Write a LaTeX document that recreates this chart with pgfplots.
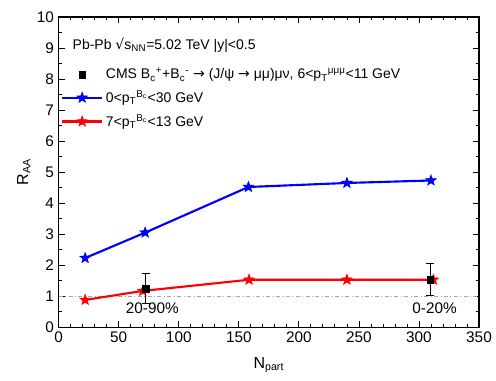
\documentclass[border=0pt]{standalone}
\usepackage{pgfplots}
\pgfplotsset{compat=1.18}
\usepackage{fontspec}
\setmainfont{Liberation Sans}
\newfontfamily\sym{DejaVu Sans}
\pgfdeclareplotmark{fstar}{%
  \pgfpathmoveto{\pgfqpointpolar{90}{\pgfplotmarksize}}%
  \pgfpathlineto{\pgfqpointpolar{126}{0.42\pgfplotmarksize}}%
  \pgfpathlineto{\pgfqpointpolar{162}{\pgfplotmarksize}}%
  \pgfpathlineto{\pgfqpointpolar{198}{0.42\pgfplotmarksize}}%
  \pgfpathlineto{\pgfqpointpolar{234}{\pgfplotmarksize}}%
  \pgfpathlineto{\pgfqpointpolar{270}{0.42\pgfplotmarksize}}%
  \pgfpathlineto{\pgfqpointpolar{306}{\pgfplotmarksize}}%
  \pgfpathlineto{\pgfqpointpolar{342}{0.42\pgfplotmarksize}}%
  \pgfpathlineto{\pgfqpointpolar{18}{\pgfplotmarksize}}%
  \pgfpathlineto{\pgfqpointpolar{54}{0.42\pgfplotmarksize}}%
  \pgfpathclose
  \pgfusepathqfillstroke}
\pgfplotstableread{
x y e
72.5 1.25 0.47
309.5 1.54 0.52
}\cms
\begin{document}
\begin{tikzpicture}
\path[use as bounding box] (-44pt,-40pt) rectangle (327.75pt,245.25pt);
\begin{axis}[
  scale only axis, width=315pt, height=232.5pt,
  xmin=0, xmax=350, ymin=0, ymax=10,
  xtick={0,50,...,350}, ytick={0,1,...,10},
  minor x tick num=4, minor y tick num=1,
  tick align=inside, axis line style={line width=0.8pt},
  major tick length=4.5pt, minor tick length=2.5pt,
  every tick/.style={black, line width=0.6pt},
  /pgf/number format/assume math mode=true,
  tick label style={font=\fontsize{11.5}{13}\selectfont},
  xlabel={N\textsubscript{part}}, ylabel={R\textsubscript{AA}},
  label style={font=\fontsize{12}{14}\selectfont},
  xlabel style={yshift=-4pt},
  ylabel style={yshift=-2pt},
  legend cell align=left,
  legend style={at={(axis description cs:0.005,0.845)}, anchor=north west, draw=none, fill=none,
    font=\fontsize{10.5}{12}\selectfont, row sep=3.3pt, inner sep=0pt},
  legend image code/.code={\draw[mark repeat=2,mark phase=2] plot coordinates {(0pt,0pt) (15pt,0pt) (30pt,0pt)};},
  clip=false,
]
\addplot[gray!70, dash dot, line width=0.5pt, forget plot] coordinates {(0,1) (350,1)};
\addplot[only marks, mark=square*, mark size=2.5pt, black] table[x=x,y=y] {\cms};
\addlegendentry{CMS B\textsubscript{c}\textsuperscript{+}+B\textsubscript{c}\textsuperscript{-} {\sym →} (J/ψ {\sym →} μμ)μν, 6<p\textsubscript{T}\textsuperscript{μμμ}<11 GeV}
\addplot[blue, line width=1.6pt, mark=fstar, mark size=4.2pt, mark options={fill=blue, line width=0.4pt}]
  coordinates {(22,2.23) (72,3.05) (158,4.52) (240,4.65) (310,4.73)};
\addlegendentry{0<p\textsubscript{T}\textsuperscript{B\textsubscript{c}}<30 GeV}
\addplot[red, line width=1.6pt, mark=fstar, mark size=4.2pt, mark options={fill=red, line width=0.4pt}]
  coordinates {(22,0.88) (70,1.17) (158.5,1.53) (240,1.53) (312,1.53)};
\addlegendentry{7<p\textsubscript{T}\textsuperscript{B\textsubscript{c}}<13 GeV}
\addplot[only marks, mark=square*, mark size=2.5pt, black, forget plot,
  error bars/.cd, y dir=both, y explicit, error mark options={rotate=90, mark size=3pt, line width=0.6pt}, error bar style={line width=0.6pt}]
  table[x=x,y=y,y error=e] {\cms};
\node[anchor=west, font=\fontsize{10.5}{12}\selectfont] at (axis description cs:0.022,0.91) {Pb-Pb {\sym √}s\textsubscript{NN}=5.02 TeV |y|<0.5};
\node[font=\fontsize{11.5}{13}\selectfont] at (axis cs:78,0.6) {20-90\%};
\node[font=\fontsize{11.5}{13}\selectfont] at (axis cs:313,0.6) {0-20\%};
\end{axis}
\end{tikzpicture}
\end{document}
